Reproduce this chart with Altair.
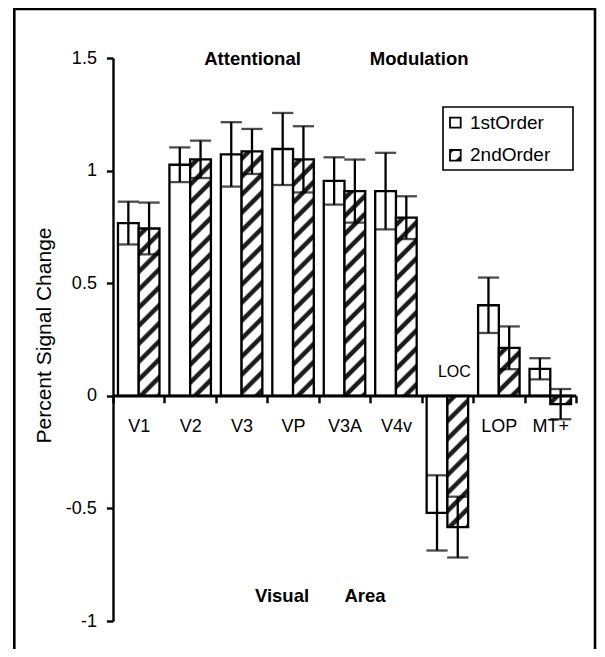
import altair as alt

# ---------------- data ----------------
categories = ["V1", "V2", "V3", "VP", "V3A", "V4v", "LOC", "LOP", "MT+"]
series_names = ["1stOrder", "2ndOrder"]
first_order = [0.767, 1.026, 1.072, 1.096, 0.954, 0.909, -0.520, 0.402, 0.120]
second_order = [0.743, 1.050, 1.085, 1.050, 0.909, 0.791, -0.583, 0.213, -0.037]
first_err = [0.095, 0.077, 0.143, 0.160, 0.105, 0.170, 0.167, 0.123, 0.047]
second_err = [0.115, 0.083, 0.100, 0.147, 0.140, 0.095, 0.135, 0.095, 0.067]
y_ticks = [-1, -0.5, 0, 0.5, 1, 1.5]

# ---------------- layout ----------------
W, H = 463, 563
Y_DOMAIN = [-1, 1.5]
PX = H / (Y_DOMAIN[1] - Y_DOMAIN[0])
BAND = W / len(categories)
OFF_PAD = 0.24
BAR_W = BAND / (2 + 2 * OFF_PAD)
FONT = "Liberation Sans"
DARK = (28, 28, 28)
WHITE = (255, 255, 255)


def mix(c1, c2, t):
    return "#%02x%02x%02x" % tuple(int(round(a + (b - a) * t)) for a, b in zip(c1, c2))


def hatch(w, h, period=18.0, ramp=2.2, core=4.2, phase=3.0):
    """diagonal '/' stripes as a linear gradient in bounding-box units"""
    L = w + h

    def col(pos):
        t = (pos - phase) % period
        if t < ramp:
            return mix(WHITE, DARK, t / ramp)
        if t < ramp + core:
            return mix(DARK, DARK, 0)
        if t < 2 * ramp + core:
            return mix(DARK, WHITE, (t - ramp - core) / ramp)
        return mix(WHITE, WHITE, 0)

    stops = [{"offset": 0, "color": col(0)}]
    k = -1
    while True:
        a = phase + k * period
        if a > L:
            break
        for p, c in [(a, WHITE), (a + ramp, DARK), (a + ramp + core, DARK), (a + 2 * ramp + core, WHITE)]:
            if 0 < p < L:
                stops.append({"offset": p / L, "color": mix(c, c, 0)})
        k += 1
    stops.append({"offset": 1, "color": col(L)})
    c = (1 / h + 1 / w) / (1 / h ** 2 + 1 / w ** 2)
    return {"gradient": "linear", "x1": 0, "y1": 0, "x2": c / h, "y2": c / w, "stops": stops}


rows = []
for i, cat in enumerate(categories):
    for s, vals, errs in [(series_names[0], first_order, first_err), (series_names[1], second_order, second_err)]:
        v, e = vals[i], errs[i]
        fill = "white" if s == series_names[0] else hatch(BAR_W, max(abs(v) * PX, 1.0))
        rows.append({"cat": cat, "series": s, "value": v, "lo": v - e, "hi": v + e, "grad": fill})

data = alt.Data(values=rows)
base = alt.Chart(data)

x_axis = alt.Axis(
    title=None, orient="bottom", offset=-PX * (0 - Y_DOMAIN[0]), labelAngle=0,
    domainColor="black", domainWidth=2.4, tickColor="black", tickWidth=2.4, tickSize=7,
    tickBand="extent", labelFontSize=18, labelFont=FONT, labelColor="black", labelPadding=15,
    labelExpr="datum.value == 'LOC' ? '' : datum.value", grid=False, zindex=1,
)
y_axis = alt.Axis(
    values=y_ticks, labelExpr="'' + datum.value", title="Percent Signal Change",
    titleFontSize=21, titleFont=FONT, titleFontWeight="normal", titleColor="black",
    titleX=-59, titleY=277, domainColor="black", domainWidth=2.4, tickColor="black",
    tickWidth=2.4, tickSize=6.6, labelPadding=10, labelFontSize=18, labelFont=FONT,
    labelColor="black", grid=False,
)

x_sc = alt.Scale(domain=categories, paddingInner=0, paddingOuter=0)
off_sc = alt.Scale(domain=series_names, paddingInner=0, paddingOuter=OFF_PAD)
y_sc = alt.Scale(domain=Y_DOMAIN, nice=False, zero=False)

X = alt.X("cat:N", sort=categories, scale=x_sc, axis=x_axis)
XO = alt.XOffset("series:N", sort=series_names, scale=off_sc)

bars = base.mark_bar(stroke="black", strokeWidth=2.3).encode(
    x=X, xOffset=XO,
    y=alt.Y("value:Q", stack=None, scale=y_sc, axis=y_axis),
    fill=alt.Fill("grad:N", scale=None, legend=None),
)

rules = base.mark_rule(color="black", strokeWidth=2.3).encode(
    x=X, xOffset=XO,
    y=alt.Y("lo:Q", scale=y_sc, axis=y_axis),
    y2="hi:Q",
)

caps = base.transform_fold(["lo", "hi"], as_=["end", "endval"]).mark_tick(
    color="black", thickness=2.3, size=BAR_W + 0.5, orient="horizontal"
).encode(
    x=X, xOffset=XO,
    y=alt.Y("endval:Q", scale=y_sc, axis=y_axis),
)

loc_label = base.transform_filter(
    "datum.series == '1stOrder' && datum.value < 0"
).mark_text(fontSize=16, font=FONT, color="black", baseline="alphabetic", dy=-19, dx=7).encode(
    x=X,
    y=alt.Y(datum=0, scale=y_sc, axis=y_axis),
    text="cat:N",
)

deco = alt.Chart(alt.Data(values=[{}]))

zero_line = deco.mark_rule(color="black", strokeWidth=2.4).encode(
    x=alt.value(0), x2=alt.value(W), y=alt.Y(datum=0, scale=y_sc, axis=y_axis)
)

frame = deco.mark_rect(filled=False, stroke="black", strokeWidth=2.6).encode(
    x=alt.value(-98.7), x2=alt.value(482), y=alt.value(-49), y2=alt.value(640)
)

legend_box = deco.mark_rect(fill="white", stroke="black", strokeWidth=1.6).encode(
    x=alt.value(330), x2=alt.value(460), y=alt.value(49), y2=alt.value(112)
)
sym1 = deco.mark_rect(fill="white", stroke="black", strokeWidth=1.8).encode(
    x=alt.value(337), x2=alt.value(347.7), y=alt.value(59.7), y2=alt.value(69.7)
)
legend_hatch = hatch(10.7, 10.7, period=18.0, ramp=1.5, core=5.0, phase=-3.0)
sym2 = deco.mark_rect(fill=legend_hatch, stroke="black", strokeWidth=1.8).encode(
    x=alt.value(337), x2=alt.value(347.7), y=alt.value(92), y2=alt.value(102.7)
)


def txt(s, x, y, size, weight="normal", align="left"):
    return deco.mark_text(
        text=s, fontSize=size, font=FONT, fontWeight=weight, color="black",
        align=align, baseline="alphabetic",
    ).encode(x=alt.value(x), y=alt.value(y))


lt1 = txt(series_names[0], 357, 71, 19)
lt2 = txt(series_names[1], 357, 102.5, 19)
t1 = txt("Attentional", 139.5, 6.5, 18.5, "bold", "center")
t2 = txt("Modulation", 306.2, 6.5, 18.5, "bold", "center")
t3 = txt("Visual", 169, 544, 18.5, "bold", "center")
t4 = txt("Area", 252, 544, 18.5, "bold", "center")

chart = alt.layer(
    bars, rules, caps, loc_label, zero_line, frame, legend_box, sym1, sym2, lt1, lt2, t1, t2, t3, t4
).properties(
    width=W, height=H,
    autosize=alt.AutoSizeParams(type="none"),
    padding={"left": 105, "top": 50, "right": 21, "bottom": 28},
).configure(
    font=FONT
).configure_view(
    strokeWidth=0, stroke="transparent"
).configure_axis(
    domainColor="black", domainWidth=2.4, tickColor="black", tickWidth=2.4,
    domainOpacity=1, tickOpacity=1, labelColor="black", titleColor="black",
)

chart.save("out.html", embed_options={"renderer": "svg", "actions": False})
